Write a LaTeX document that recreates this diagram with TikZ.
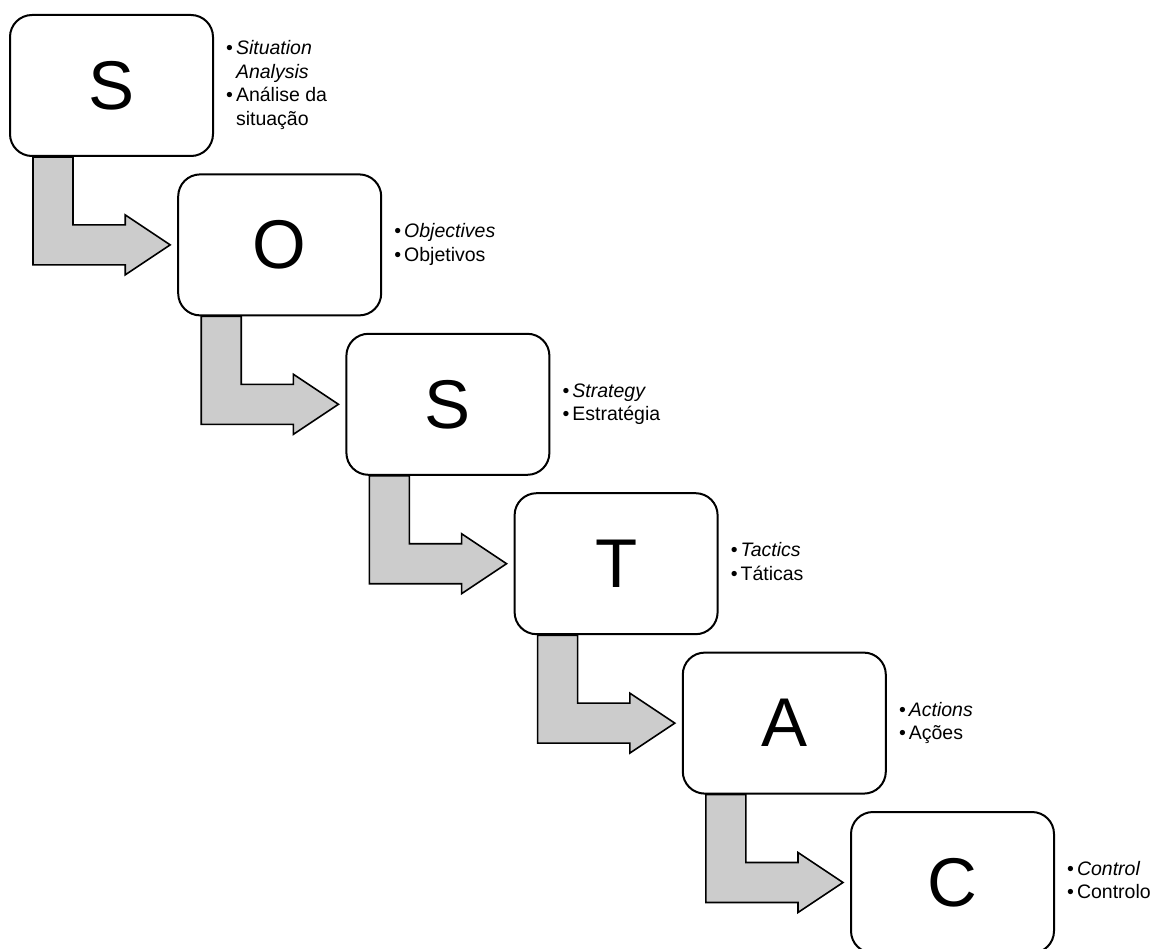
\documentclass[tikz,border=0pt]{standalone}
\usepackage{fontspec}
\setmainfont{Liberation Sans}
\usetikzlibrary{calc,backgrounds}
\begin{document}
\begin{tikzpicture}[x=1pt,y=-1pt,
    letterbox/.style={draw,line width=2pt,rounded corners=22pt,fill=white,minimum width=203pt,minimum height=141pt,inner sep=0pt,font=\fontsize{69}{69}\selectfont},
    bullets/.style={anchor=west,inner sep=0pt,font=\fontsize{19.5}{23.5}\selectfont},
    bendarrow/.style={draw,line width=1.6pt,fill=black!20,line join=miter}]
        \def\dx{168.2}
        \def\dy{159.4}
        \useasboundingbox (0,0) rectangle (1155,949);

        \node[letterbox] (sit) at (111.5,85.5) {S};
        \node[letterbox] (obj) at (111.5+\dx,85.5+\dy) {O};
        \node[letterbox] (str) at (111.5+2*\dx,85.5+2*\dy) {S};
        \node[letterbox] (tac) at (111.5+3*\dx,85.5+3*\dy) {T};
        \node[letterbox] (act) at (111.5+4*\dx,85.5+4*\dy) {A};
        \node[letterbox] (con) at (111.5+5*\dx,85.5+5*\dy) {C};

        \node[bullets] (sit-txt) at ([xshift=12pt]sit.east) {\begin{tabular}{@{}l@{\hspace{3pt}}l@{}}\textbullet & \textit{Situation}\\ & \textit{Analysis}\\ \textbullet & Análise da\\ & situação\end{tabular}};
        \node[bullets] (obj-txt) at ([xshift=12pt]obj.east) {\begin{tabular}{@{}l@{\hspace{3pt}}l@{}}\textbullet & \textit{Objectives}\\ \textbullet & Objetivos\end{tabular}};
        \node[bullets] (str-txt) at ([xshift=12pt]str.east) {\begin{tabular}{@{}l@{\hspace{3pt}}l@{}}\textbullet & \textit{Strategy}\\ \textbullet & Estratégia\end{tabular}};
        \node[bullets] (tac-txt) at ([xshift=12pt]tac.east) {\begin{tabular}{@{}l@{\hspace{3pt}}l@{}}\textbullet & \textit{Tactics}\\ \textbullet & Táticas\end{tabular}};
        \node[bullets] (act-txt) at ([xshift=12pt]act.east) {\begin{tabular}{@{}l@{\hspace{3pt}}l@{}}\textbullet & \textit{Actions}\\ \textbullet & Ações\end{tabular}};
        \node[bullets] (con-txt) at ([xshift=12pt]con.east) {\begin{tabular}{@{}l@{\hspace{3pt}}l@{}}\textbullet & \textit{Control}\\ \textbullet & Controlo\end{tabular}};

        % bent arrows behind the boxes
        \begin{scope}[on background layer]
        \foreach \a/\b in {sit/obj,obj/str,str/tac,tac/act,act/con}{
            \coordinate (tip) at ($(\b.west)+(-7,0)$);
            \coordinate (root) at ($(\a.south west)+(24,0)$);
            \draw[bendarrow] (root) -- ($(root |- tip)+(0,20)$) -- ($(tip)+(-45,20)$) -- ($(tip)+(-45,30)$) -- (tip)
                -- ($(tip)+(-45,-30)$) -- ($(tip)+(-45,-20)$) -- ($(root |- tip)+(40,-20)$) -- ($(root)+(40,0)$) -- cycle;
        }
        \end{scope}
    \end{tikzpicture}
\end{document}
